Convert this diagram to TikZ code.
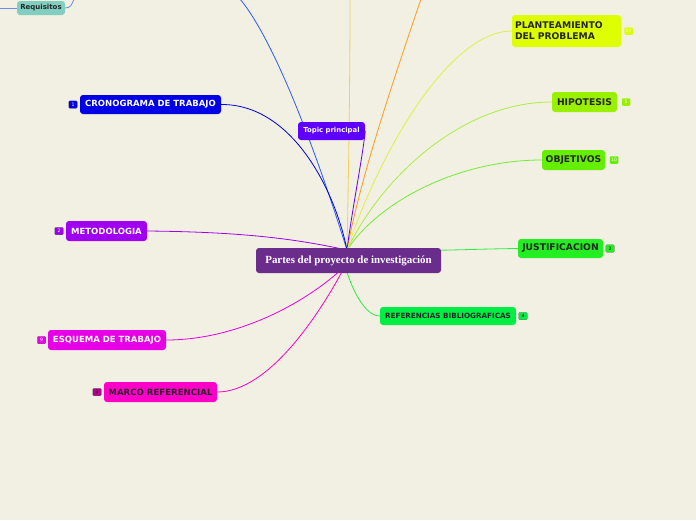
\documentclass[tikz,border=0pt]{standalone}
\usepackage{fontspec}
\setmainfont{DejaVu Sans}
\newfontfamily\cserif{Liberation Serif}
\usetikzlibrary{backgrounds}
\definecolor{bgc}{HTML}{F2EFE3}
\definecolor{creq}{HTML}{80CFC0}
\definecolor{ccron}{HTML}{0000E6}
\definecolor{cmeto}{HTML}{A000F0}
\definecolor{cesq}{HTML}{E600E6}
\definecolor{cmarco}{HTML}{FF00C8}
\definecolor{ccent}{HTML}{6A2D8C}
\definecolor{ctopic}{HTML}{5F00FF}
\definecolor{cref}{HTML}{00EE44}
\definecolor{cplan}{HTML}{DDFF00}
\definecolor{chip}{HTML}{99F000}
\definecolor{cobj}{HTML}{66EE00}
\definecolor{cjus}{HTML}{22EE22}
\definecolor{lblue}{HTML}{2A5CFF}
\definecolor{lyel}{HTML}{F0D060}
\definecolor{lora}{HTML}{FF9A1A}
\definecolor{lplan}{HTML}{E0F040}
\definecolor{lhip}{HTML}{A8F040}
\definecolor{lobj}{HTML}{70EE30}
\definecolor{lgrn}{HTML}{30EE40}
\definecolor{lreq}{HTML}{6A8CE8}
\tikzset{
  box/.style={rounded corners=3pt, inner sep=0pt, align=center, font=\bfseries\fontsize{8.5}{10}\selectfont},
  dbox/.style={box, font=\bfseries\fontsize{9.2}{11}\selectfont},
  badge/.style={rounded corners=1pt, inner sep=0pt, minimum width=8.5pt, minimum height=7.5pt, draw=black!60, line width=0.3pt, font=\fontsize{4.6}{5}\selectfont},
  conn/.style={line width=0.8pt}
}
\begin{document}
\begin{tikzpicture}[x=1pt,y=-1pt]
\useasboundingbox (0,0) rectangle (696,520);
% nodes
\node[box, fill=creq, text=black!85, minimum width=48pt, minimum height=14pt, font=\bfseries\fontsize{7}{8}\selectfont] (req) at (41,8) {Requisitos};
\node[box, fill=ccron, text=white, minimum width=141pt, minimum height=19pt] (cron) at (150.5,104.5) {CRONOGRAMA DE TRABAJO};
\node[badge, fill=ccron, text=white] (bcron) at (73,104.5) {1};
\node[box, fill=cmeto, text=white, minimum width=81pt, minimum height=20pt] (meto) at (106.5,231) {METODOLOGIA};
\node[badge, fill=cmeto, text=white] (bmeto) at (59,231) {2};
\node[box, fill=cesq, text=white, minimum width=118pt, minimum height=20pt] (esq) at (107,340) {ESQUEMA DE TRABAJO};
\node[badge, fill=cesq, text=white] (besq) at (41.5,340) {9};
\node[dbox, fill=cmarco, text=black!85, minimum width=113pt, minimum height=20pt, font=\bfseries\fontsize{8.6}{10}\selectfont] (marco) at (160.5,392) {MARCO REFERENCIAL};
\node[badge, fill=cmarco!70!black, text=black] (bmarco) at (97,392) {3};
\node[box, fill=ccent, text=white, minimum width=185pt, minimum height=25pt, font=\cserif\bfseries\fontsize{10.9}{12}\selectfont] (cent) at (348.5,260.5) {Partes del proyecto de investigación};
\node[box, fill=ctopic, text=white, minimum width=67pt, minimum height=18pt, font=\bfseries\fontsize{6.9}{8}\selectfont] (topic) at (331.5,131) {Topic principal};
\node[box, fill=cref, text=black!85, minimum width=136pt, minimum height=18pt, font=\bfseries\fontsize{7.2}{8}\selectfont] (ref) at (448,316) {REFERENCIAS BIBLIOGRAFICAS};
\node[badge, fill=cref, text=black] (bref) at (523,316) {4};
\node[dbox, fill=cplan, text=black!85, minimum width=109pt, minimum height=32pt, align=left, text width=103pt] (plan) at (566.5,31) {PLANTEAMIENTO\\DEL PROBLEMA};
\node[badge, fill=cplan, draw=none, text=white] (bplan) at (628.5,31) {10};
\node[dbox, fill=chip, text=black!85, minimum width=65pt, minimum height=20pt] (hip) at (584.5,102) {HIPOTESIS};
\node[badge, fill=chip, draw=none, text=white] (bhip) at (626,102) {5};
\node[dbox, fill=cobj, text=black!85, minimum width=63pt, minimum height=20pt] (obj) at (573.5,160) {OBJETIVOS};
\node[badge, fill=cobj, draw=none, text=white] (bobj) at (614,160) {10};
\node[dbox, fill=cjus, text=black!85, minimum width=85pt, minimum height=19pt] (jus) at (560.5,248.5) {JUSTIFICACION};
\node[badge, fill=cjus, text=black] (bjus) at (610,248.5) {2};
% free ends
\coordinate (hub) at (347,250);
\coordinate (hubb) at (345,266);
\coordinate (tblue) at (240,-1);
\coordinate (tyel) at (350,-1);
\coordinate (tora) at (421,-1);
\coordinate (rl) at (-1,8);
\coordinate (rt) at (74,-1);
\begin{pgfonlayer}{background}
\fill[bgc] (0,0) rectangle (696,520);
\draw[conn, lreq] (rl) -- (req.west);
\draw[conn, lreq] (req.east) .. controls (71,8) and (72,4) .. (rt);
\draw[conn, lblue] (tblue) .. controls (278,45) and (322,170) .. (hub);
\draw[conn, lyel] (tyel) .. controls (350,100) and (348,200) .. (hub);
\draw[conn, lora] (tora) .. controls (390,90) and (360,180) .. (hub);
\draw[conn, ctopic] (topic.east) .. controls (363,155) and (352,210) .. (hub);
\draw[conn, ccron] (cron.east) .. controls (292,104) and (335,190) .. (hub);
\draw[conn, cmeto] (meto.east) .. controls (250,232) and (300,240) .. (hub);
\draw[conn, cesq] (esq.east) .. controls (240,340) and (310,300) .. (hubb);
\draw[conn, cmarco] (marco.east) .. controls (270,392) and (322,310) .. (hubb);
\draw[conn, lgrn] (ref.west) .. controls (365,316) and (352,290) .. (hubb);
\draw[conn, lgrn] (jus.west) .. controls (470,249) and (420,252) .. (hub);
\draw[conn, lobj] (obj.west) .. controls (460,160) and (380,200) .. (hub);
\draw[conn, lhip] (hip.west) .. controls (460,102) and (380,180) .. (hub);
\draw[conn, lplan] (plan.west) .. controls (450,31) and (380,150) .. (hub);
\end{pgfonlayer}
\end{tikzpicture}
\end{document}
